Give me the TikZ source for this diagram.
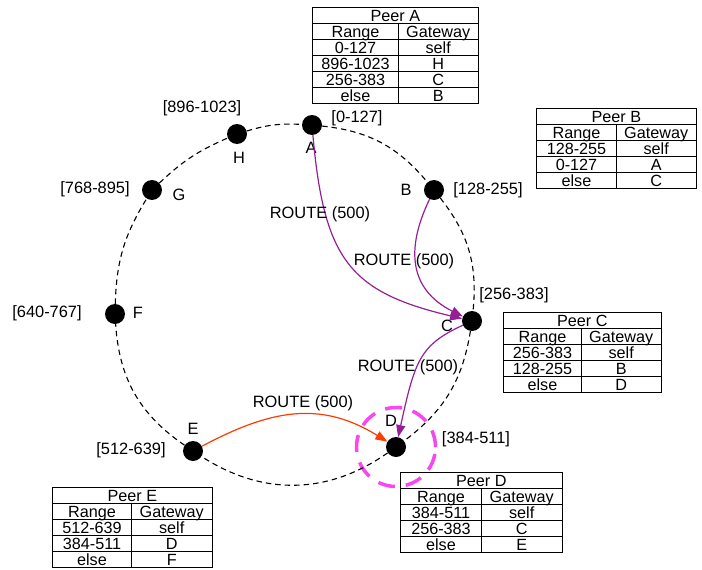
\documentclass[tikz,border=0pt]{standalone}
\usepackage{fontspec}
\setmainfont{Liberation Sans}
\usepackage{array}
\usetikzlibrary{arrows.meta}
\definecolor{routepurple}{RGB}{150,30,150}
\definecolor{routered}{RGB}{255,60,0}
\definecolor{hilite}{RGB}{250,70,240}
\newsavebox\cellbox
\newcolumntype{C}[1]{>{\centering\arraybackslash\begin{lrbox}{\cellbox}}p{#1}<{\end{lrbox}\raisebox{-2.4pt}[0pt][0pt]{\usebox\cellbox}}}
\setlength\tabcolsep{0pt}
\setlength\arrayrulewidth{0.9pt}
\newcommand\peertab[4]{%
\begin{tabular}{|C{#2}|C{#3}|}\hline
\multicolumn{2}{|c|}{\raisebox{-2.4pt}[0pt][0pt]{#1}}\\\hline
Range & Gateway\\\hline
#4
\end{tabular}}
\tikzset{
  peer/.style={circle, fill=black, minimum size=20pt, inner sep=0pt},
  lbl/.style={font=\fontsize{16.4}{18}\selectfont, inner sep=0pt},
  tbl/.style={anchor=north west, inner sep=0pt, font=\fontsize{16.2}{15.1}\selectfont},
  ring/.style={draw=black, line width=1.1pt, dash pattern=on 5.5pt off 4pt},
  route/.style={draw=routepurple, line width=1.2pt, -{Triangle[length=12pt,width=9pt]}},
  routeE/.style={draw=routered, line width=1.2pt, -{Triangle[length=12pt,width=9pt]}},
  hiring/.style={draw=hilite, circle, line width=3.5pt, minimum size=79pt, inner sep=0pt, dash pattern=on 17pt off 11pt},
}
\begin{document}
\begin{tikzpicture}[x=1pt,y=-1pt]
\useasboundingbox (0,0) rectangle (702,570);
% peers
\node[peer] (A) at (312,125) {};
\node[peer] (B) at (434,190) {};
\node[peer] (C) at (472,321) {};
\node[peer] (D) at (396,447) {};
\node[peer] (E) at (193,451) {};
\node[peer] (F) at (115,314) {};
\node[peer] (G) at (152,190) {};
\node[peer] (H) at (237,134) {};
% highlight ring around D
\node[hiring] (Dring) at (396,447) {};
% ring edges
\draw[ring] (A) to[bend left=22] (B);
\draw[ring] (B) to[bend left=22] (C);
\draw[ring] (C) to[bend left=22] (D);
\draw[ring] (D) to[bend left=34] (E);
\draw[ring] (E) to[bend left=26] (F);
\draw[ring] (F) to[bend left=15] (G);
\draw[ring] (G) to[bend left=10] (H);
\draw[ring] (H) to[bend left=10] (A);
% letter labels
\node[lbl] (lA) at (311,148) {A};
\node[lbl] (lB) at (406,190) {B};
\node[lbl] (lC) at (447,326) {C};
\node[lbl] (lD) at (391,421) {D};
\node[lbl] (lE) at (193,429) {E};
\node[lbl] (lF) at (138,313) {F};
\node[lbl] (lG) at (179,195) {G};
\node[lbl] (lH) at (239,158) {H};
% ranges
\node[lbl] (rA) at (357,118) {[0-127]};
\node[lbl] (rB) at (488,190) {[128-255]};
\node[lbl] (rC) at (514,295) {[256-383]};
\node[lbl] (rD) at (476,439) {[384-511]};
\node[lbl] (rE) at (131,450) {[512-639]};
\node[lbl] (rF) at (47,313) {[640-767]};
\node[lbl] (rG) at (95,189) {[768-895]};
\node[lbl] (rH) at (202,108) {[896-1023]};
% routes
\draw[route] (A) .. controls (324,260) and (350,292) .. (C);
\draw[route] (B) .. controls (405,250) and (410,290) .. (C);
\draw[route] (C) .. controls (420,345) and (415,360) .. (D);
\draw[routeE] (E) .. controls (270,410) and (320,400) .. (D);
\node[lbl] (m1) at (320,214) {ROUTE (500)};
\node[lbl] (m2) at (404,261) {ROUTE (500)};
\node[lbl] (m3) at (408,367) {ROUTE (500)};
\node[lbl] (m4) at (303,403) {ROUTE (500)};
% tables
\node[tbl] (tA) at (312,7) {\peertab{Peer A}{84.8pt}{78.8pt}{0-127 & self\\\hline 896-1023 & H\\\hline 256-383 & C\\\hline else & B\\\hline}};
\node[tbl] (tB) at (536,108) {\peertab{Peer B}{78.8pt}{78.8pt}{128-255 & self\\\hline 0-127 & A\\\hline else & C\\\hline}};
\node[tbl] (tC) at (503,312) {\peertab{Peer C}{76.8pt}{78.8pt}{256-383 & self\\\hline 128-255 & B\\\hline else & D\\\hline}};
\node[tbl] (tD) at (400,472) {\peertab{Peer D}{79.8pt}{79.8pt}{384-511 & self\\\hline 256-383 & C\\\hline else & E\\\hline}};
\node[tbl] (tE) at (52,487) {\peertab{Peer E}{77.8pt}{79.8pt}{512-639 & self\\\hline 384-511 & D\\\hline else & F\\\hline}};
\end{tikzpicture}
\end{document}
